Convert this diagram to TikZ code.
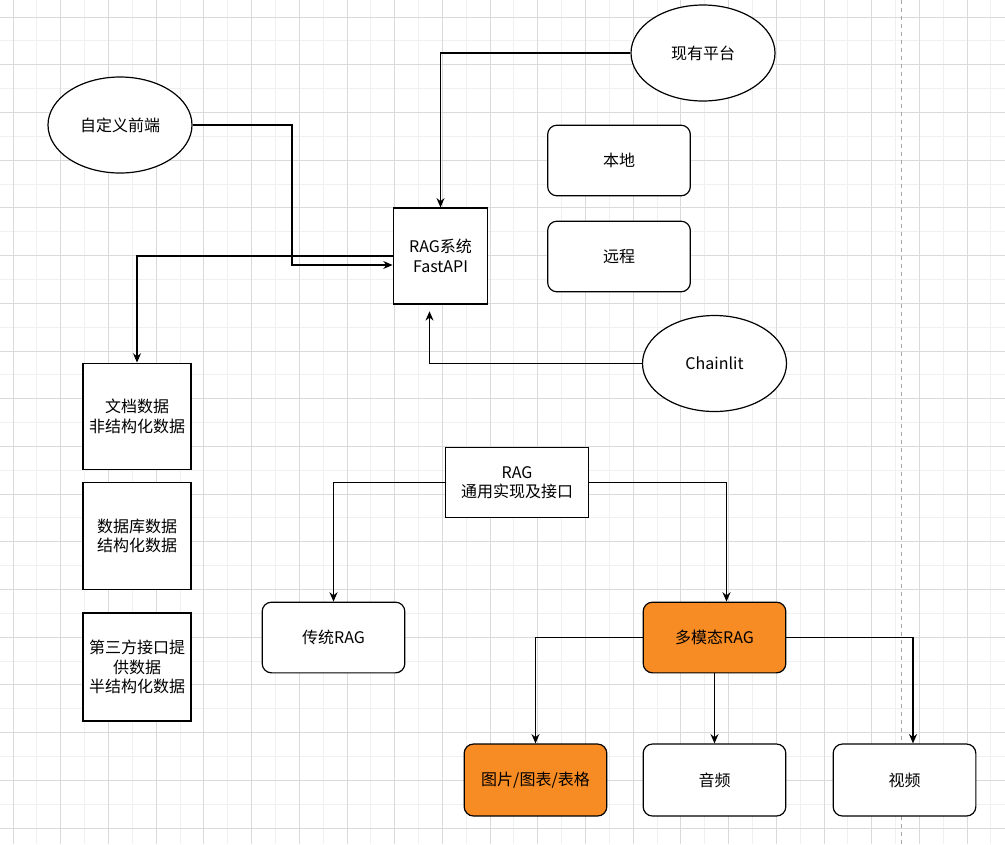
\documentclass[tikz,border=0pt]{standalone}
\usepackage{fontspec}
\setmainfont{Noto Sans CJK SC}
\usetikzlibrary{shapes.geometric, arrows.meta, positioning, calc}
\definecolor{gridminor}{RGB}{240,240,240}
\definecolor{gridmajor}{RGB}{218,218,218}
\definecolor{mmorange}{RGB}{247,139,36}

\begin{document}
\begin{tikzpicture}[
        x=0.75pt, y=-0.75pt,
        font=\fontsize{12}{14.5}\selectfont,
        box/.style={rectangle, draw, fill=white, line width=0.9pt, minimum width=107pt, minimum height=53pt, align=center, inner sep=2pt},
        rbox/.style={box, rounded corners=7pt},
        oval/.style={ellipse, draw, fill=white, line width=0.9pt, minimum width=108pt, minimum height=72pt},
        arrow/.style={-{Stealth[length=7pt, width=6pt]}, line width=0.9pt}
    ]
        % Background grid
        \useasboundingbox (0,0) rectangle (1005,844);
        \fill[white] (0,0) rectangle (1005,844);
        \foreach \i in {-1,...,41} {
            \draw[gridminor, line width=0.6pt] (13+23.85*\i,0) -- (13+23.85*\i,844);
        }
        \foreach \i in {-1,...,35} {
            \draw[gridminor, line width=0.6pt] (0,17+23.85*\i) -- (1005,17+23.85*\i);
        }
        \foreach \k in {0,...,20} {
            \draw[gridmajor, line width=0.6pt] (13+47.7*\k,0) -- (13+47.7*\k,844);
        }
        \foreach \k in {0,...,17} {
            \draw[gridmajor, line width=0.6pt] (0,17+47.7*\k) -- (1005,17+47.7*\k);
        }
        \draw[gray!70, dashed, line width=0.6pt] (901,0) -- (901,844);

        % Front ends and the RAG service
        \node[oval] (front) at (120,125) {自定义前端};
        \node[oval] (platform) at (703,53) {现有平台};
        \node[rbox] (local) at (619,160.5) {本地};
        \node[rbox] (remote) at (619,256.5) {远程};
        \node[box, minimum width=71pt, minimum height=72pt] (rag) at (440.5,256) {RAG系统\\FastAPI};
        \node[oval] (chainlit) at (714.5,363.5) {Chainlit};

        % Data sources
        \node[box, minimum width=81pt, minimum height=80pt] (docdata) at (137,416.5) {文档数据\\非结构化数据};
        \node[box, minimum width=81pt, minimum height=80pt] (dbdata) at (137,536) {数据库数据\\结构化数据};
        \node[box, minimum width=81pt, minimum height=81pt] (apidata) at (137,667) {第三方接口提\\供数据\\半结构化数据};

        % RAG variants
        \node[box] (general) at (517,482.5) {RAG\\通用实现及接口};
        \node[rbox] (trad) at (333.5,637.5) {传统RAG};
        \node[rbox, fill=mmorange] (multi) at (714.5,637.5) {多模态RAG};
        \node[rbox, fill=mmorange, minimum height=54pt] (img) at (535.5,780) {图片/图表/表格};
        \node[rbox, minimum height=54pt] (audio) at (714.5,780) {音频};
        \node[rbox, minimum height=54pt] (video) at (904.5,780) {视频};

        % Connectors
        \coordinate (frontbend) at (292,265);
        \draw[arrow] (front.east) -| (frontbend) -- (frontbend -| rag.west);
        \draw[arrow] (platform.west) -| (rag.north);
        \draw[arrow] (rag.west) -| (docdata.north);
        \draw[arrow, shorten >=5pt] (chainlit.west) -| ($(rag.south)+(-11,0)$);
        \draw[arrow] (general.east) -| ($(multi.north)+(12,0)$);
        \draw[arrow] (general.west) -| (trad.north);
        \draw[arrow] (multi.west) -| (img.north);
        \draw[arrow] (multi.south) -- (audio.north);
        \draw[arrow] (multi.east) -| ($(video.north)+(8.5,0)$);

    \end{tikzpicture}
\end{document}
